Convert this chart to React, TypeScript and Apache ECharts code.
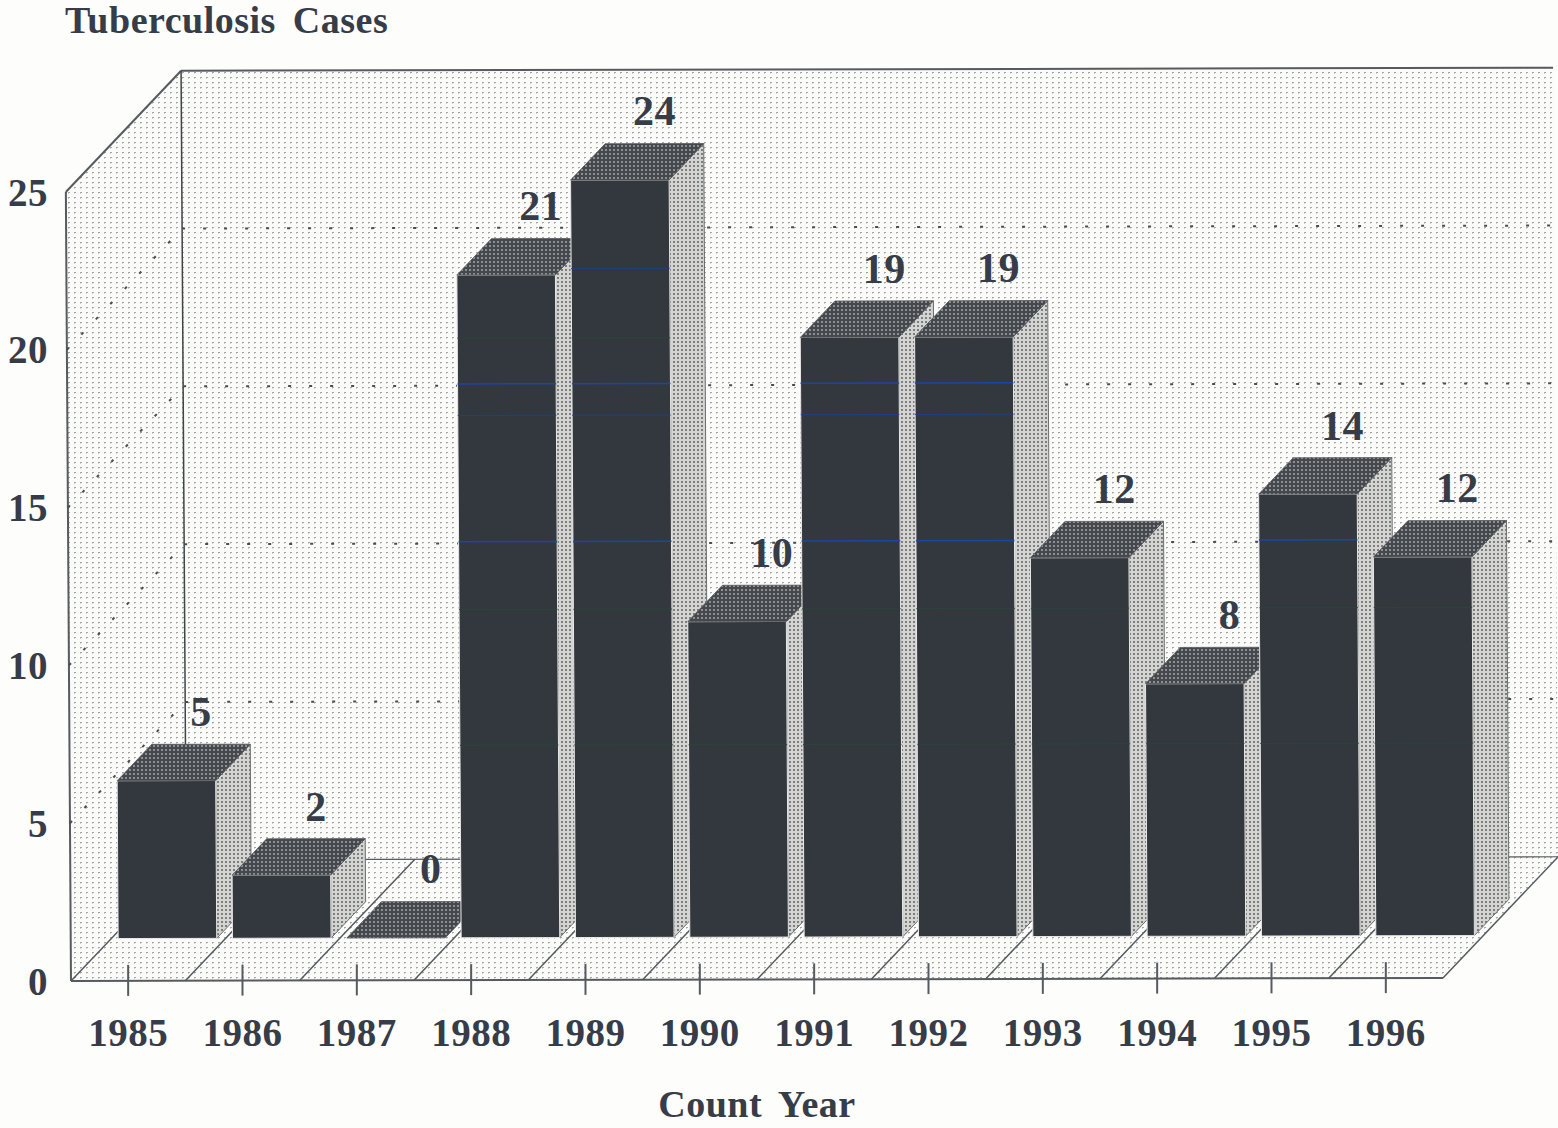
import React, { useEffect, useRef } from "react";
import * as echarts from "echarts";

const years = ["1985","1986","1987","1988","1989","1990","1991","1992","1993","1994","1995","1996"];
const cases = [5, 2, 0, 21, 24, 10, 19, 19, 12, 8, 14, 12];
const wallGridValues = [5, 10, 15, 20];
const scanLineValues = [21.2, 17.55, 16.55, 12.55];
const scanLineFaintValues = [19, 10.4, 6.1];

const INK = "#363d48";
const FONT = "'Liberation Serif', serif";
const DX = 116, DY = -121;
const BAR_Z = 0.35, BAR_DEPTH = 0.3;
const BAR_LEFT = 0.06, BAR_WIDTH = 0.862;
const FLOOR_Y = 983, LEFT_X = 71;

function tile(w: number, h: number, bg: string, dots: [number, number, number, number, string][]) {
  const c = document.createElement("canvas");
  c.width = w; c.height = h;
  const g = c.getContext("2d")!;
  g.fillStyle = bg; g.fillRect(0, 0, w, h);
  for (const [x, y, dw, dh, col] of dots) { g.fillStyle = col; g.fillRect(x, y, dw, dh); }
  return { image: c, repeat: "repeat" };
}

function skew(x: number, y: number): number[] {
  return [x - (FLOOR_Y - y) * 0.0065, y - (x - LEFT_X) * 0.0022];
}

export default function App() {
  const ref = useRef<HTMLDivElement>(null);
  useEffect(() => {
    document.body.style.margin = "0";
    const chart = echarts.init(ref.current!, null, { renderer: "svg" });
    const wallFill = tile(6, 5, "#fbfbf9", [[2, 2, 2, 1, "#a6a6a6"], [2, 3, 1, 1, "#cfcfcf"]]);
    const topFill = tile(4, 4, "#45484c", [[1, 1, 2, 2, "#8d8f90"]]);
    const sideFill = tile(4, 4, "#d4d4d3", [[1, 1, 2, 2, "#7d7e7e"]]);

    const frameRender = (_p: any, api: any) => {
      const band = api.size([1, 0])[0];
      const left = api.coord([0, 0])[0] - band / 2;
      const right = left + band * years.length;
      const Y = (v: number) => api.coord([0, v])[1];
      const P = (x: number, v: number, z: number) => skew(x + z * DX, Y(v) + z * DY);
      const poly = (pts: number[][], style: any) => ({ type: "polygon", shape: { points: pts }, style });
      const line = (a: number[], b: number[], style: any) => ({
        type: "line", shape: { x1: a[0], y1: a[1], x2: b[0], y2: b[1] }, style,
      });
      const solid = { stroke: "#565b5f", lineWidth: 2, fill: "none" };
      const dotted = { stroke: "#4a4d51", lineWidth: 2, lineDash: [3, 18], fill: "none" };
      const children: any[] = [
        poly([P(left, 0, 1), P(left, 25, 1), P(right, 25, 1), P(right, 0, 1)], { fill: wallFill }),
        poly([P(left, 0, 0), P(left, 25, 0), P(left, 25, 1), P(left, 0, 1)], { fill: wallFill }),
        poly([P(left, 0, 0), P(right, 0, 0), P(right, 0, 1), P(left, 0, 1)], { fill: wallFill }),
        line(P(left, 0, 0), P(left, 25, 0), solid),
        line(P(left, 25, 0), P(left, 25, 1), solid),
        line(P(left, 25, 1), P(right, 25, 1), solid),
        line(P(left, 25, 1), P(left, 0, 1), { ...solid, stroke: "#3f4447", lineWidth: 1.5 }),
        line(P(left, 0, 1), P(right, 0, 1), { ...solid, lineWidth: 1.2 }),
        line(P(left, 0, 0), P(right, 0, 0), solid),
      ];
      wallGridValues.forEach((v) => {
        children.push(line(P(left, v, 0), P(left, v, 1), dotted));
        children.push(line(P(left, v, 1), P(right, v, 1), dotted));
      });
      for (let i = 0; i <= years.length; i++) {
        const x = left + band * i;
        children.push(line(P(x, 0, 0), P(x, 0, 1), { ...solid, lineWidth: 1.5 }));
      }
      years.forEach((_y, i) => {
        const x = left + band * (i + 0.5);
        const [tx, ty] = P(x, 0, 0);
        children.push(line([tx, ty - 16], [tx, ty + 15], solid));
      });
      return { type: "group", children };
    };

    const barRender = (_p: any, api: any) => {
      const i = api.value(0);
      const v = api.value(1);
      const band = api.size([1, 0])[0];
      const bandLeft = api.coord([i, 0])[0] - band / 2;
      const x0 = bandLeft + band * BAR_LEFT;
      const x1 = x0 + band * BAR_WIDTH;
      const Y = (val: number) => api.coord([i, val])[1];
      const P = (x: number, val: number, z: number) => skew(x + z * DX, Y(val) + z * DY);
      const z0 = BAR_Z, z1 = BAR_Z + BAR_DEPTH;
      const children: any[] = [];
      if (v > 0) {
        children.push({
          type: "polygon",
          shape: { points: [P(x1, 0, z0), P(x1, v, z0), P(x1, v, z1), P(x1, 0, z1)] },
          style: { fill: sideFill, stroke: "#6b6e70", lineWidth: 1 },
        });
        children.push({
          type: "polygon",
          shape: { points: [P(x0, 0, z0), P(x0, v, z0), P(x1, v, z0), P(x1, 0, z0)] },
          style: { fill: "#33383f", stroke: "#e8e8e6", lineWidth: 1 },
        });
        scanLineValues.concat(scanLineFaintValues).forEach((s, k) => {
          if (s >= v) return;
          const a = P(x0, s, z0), b = P(x1, s, z0);
          const strong = k === 1 || k === 3;
          children.push({
            type: "line",
            shape: { x1: a[0], y1: a[1], x2: b[0], y2: b[1] },
            style: {
              stroke: strong ? "#1c45a8" : k < scanLineValues.length ? "#1f3f86" : "#2c4439",
              lineWidth: strong ? 1.5 : 1,
              fill: "none",
            },
          });
        });
      }
      children.push({
        type: "polygon",
        shape: { points: [P(x0, v, z0), P(x1, v, z0), P(x1, v, z1), P(x0, v, z1)] },
        style: { fill: topFill, stroke: "#55585b", lineWidth: 0.8 },
      });
      const lp = P((x0 + x1) / 2, v, 0);
      children.push({
        type: "text",
        style: {
          text: String(v),
          x: lp[0] + 75,
          y: lp[1] - 111,
          fontFamily: FONT, fontWeight: "bold", fontSize: 42,
          fill: INK, textAlign: "center", textVerticalAlign: "middle",
        },
      });
      return { type: "group", children };
    };

    chart.setOption({
      animation: false,
      backgroundColor: "#fdfdfb",
      title: {
        text: "Tuberculosis Cases",
        left: 60, top: -4,
        textStyle: { fontFamily: FONT, fontWeight: "bold", fontSize: 38, color: INK },
      },
      tooltip: { show: false },
      grid: { left: LEFT_X, top: 192, width: 1372, height: FLOOR_Y - 192 },
      xAxis: {
        type: "category",
        data: years,
        name: "Count Year",
        nameLocation: "middle",
        nameGap: 104,
        nameTextStyle: { fontFamily: FONT, fontWeight: "bold", fontSize: 38, color: INK },
        axisLine: { show: false },
        axisTick: { show: false },
        axisLabel: { margin: 32, fontFamily: FONT, fontWeight: "bold", fontSize: 39, color: INK, interval: 0 },
      },
      yAxis: {
        type: "value",
        min: 0, max: 25, interval: 5,
        splitLine: { show: false },
        axisLine: { show: false },
        axisTick: { show: false },
        axisLabel: { margin: 23, fontFamily: FONT, fontWeight: "bold", fontSize: 39, color: INK },
      },
      series: [
        { type: "custom", name: "frame", z: 1, silent: true, renderItem: frameRender, data: [[0, 0]], encode: { x: 0, y: 1 } },
        { type: "custom", name: "Tuberculosis Cases", z: 2, silent: true, renderItem: barRender,
          data: cases.map((v, i) => [i, v]), encode: { x: 0, y: 1 } },
      ],
    });
    return () => chart.dispose();
  }, []);
  return (
    <div
      ref={ref}
      style={{ position: "absolute", left: 0, top: 0, width: 1558, height: 1128, wordSpacing: "7px", letterSpacing: "0.5px" }}
    />
  );
}
